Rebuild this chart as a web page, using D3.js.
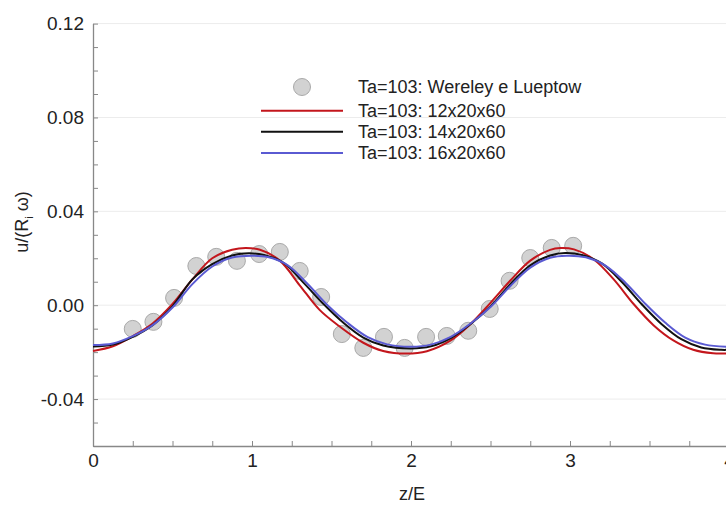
<!DOCTYPE html>
<html>
<head>
<meta charset="utf-8">
<script src="https://cdn.jsdelivr.net/npm/d3@7"></script>
<style>
  body { margin: 0; background: #fff; }
  svg { display: block; font-family: "Liberation Sans", Arial, sans-serif; }
</style>
</head>
<body>
<div id="chart"></div>
<script>
// experimental points (Wereley e Lueptow)
var expZ = [0.25, 0.38, 0.51, 0.65, 0.775, 0.905, 1.045, 1.175, 1.30, 1.435, 1.565, 1.70, 1.83, 1.96, 2.095, 2.225, 2.36, 2.495, 2.62, 2.75, 2.885, 3.02];
var expU = [-0.0101, -0.0071, 0.0031, 0.0167, 0.0206, 0.0189, 0.0218, 0.0227, 0.0146, 0.0035, -0.0123, -0.0182, -0.0135, -0.0182, -0.0135, -0.0131, -0.0109, -0.0016, 0.0104, 0.0201, 0.0244, 0.0253];

// 12x20x60
var redZ = [0, 0.125, 0.25, 0.375, 0.5, 0.625, 0.75, 0.875, 0.96, 1.05, 1.175, 1.3, 1.425, 1.55, 1.7, 1.825, 1.97, 2.1, 2.25, 2.375, 2.5, 2.625, 2.75, 2.875, 2.94, 3.025, 3.15, 3.275, 3.4, 3.525, 3.65, 3.775, 3.9, 4.0];
var redU = [-0.0195, -0.0175, -0.0132, -0.0078, 0.0005, 0.0110, 0.0200, 0.0236, 0.0244, 0.0236, 0.0190, 0.0085, -0.0020, -0.0090, -0.0160, -0.0195, -0.0206, -0.0196, -0.0150, -0.0080, 0.0010, 0.0105, 0.0190, 0.0236, 0.0244, 0.0238, 0.0195, 0.0110, 0.0005, -0.0085, -0.0150, -0.0190, -0.0205, -0.0205];

// 14x20x60
var blackZ = [0, 0.125, 0.25, 0.375, 0.5, 0.625, 0.75, 0.875, 0.98, 1.075, 1.2, 1.325, 1.45, 1.575, 1.7, 1.825, 2.0, 2.125, 2.25, 2.375, 2.5, 2.625, 2.75, 2.875, 2.97, 3.075, 3.2, 3.325, 3.45, 3.575, 3.7, 3.825, 3.95, 4.0];
var blackU = [-0.0176, -0.0168, -0.0135, -0.0085, -0.0005, 0.0110, 0.0175, 0.0212, 0.0221, 0.0214, 0.0180, 0.0095, 0.0005, -0.0075, -0.0138, -0.0172, -0.0184, -0.0175, -0.0140, -0.0080, -0.0005, 0.0090, 0.0170, 0.0212, 0.0222, 0.0214, 0.0178, 0.0100, 0.0005, -0.0080, -0.0145, -0.0180, -0.0190, -0.0190];

// 16x20x60
var blueZ = [0, 0.125, 0.25, 0.375, 0.5, 0.625, 0.75, 0.875, 1.0, 1.1, 1.225, 1.35, 1.475, 1.6, 1.725, 1.85, 2.0, 2.125, 2.25, 2.375, 2.5, 2.625, 2.75, 2.875, 2.98, 3.1, 3.225, 3.35, 3.475, 3.6, 3.725, 3.85, 4.0];
var blueU = [-0.0170, -0.0163, -0.0132, -0.0085, -0.0010, 0.0090, 0.0165, 0.0203, 0.0211, 0.0205, 0.0170, 0.0090, 0.0000, -0.0075, -0.0135, -0.0167, -0.0177, -0.0168, -0.0135, -0.0078, -0.0008, 0.0082, 0.0160, 0.0202, 0.0211, 0.0204, 0.0168, 0.0095, 0.0005, -0.0075, -0.0138, -0.0168, -0.0178];

var xTicks = [0, 1, 2, 3, 4];
var yTicks = [-0.04, 0.00, 0.04, 0.08, 0.12];
var legendLabels = ["Ta=103: Wereley e Lueptow", "Ta=103: 12x20x60", "Ta=103: 14x20x60", "Ta=103: 16x20x60"];

var W = 726, H = 506;
var svg = d3.select("#chart").append("svg").attr("width", W).attr("height", H);

var x = d3.scaleLinear().domain([0, 4]).range([93, 729]);
var y = d3.scaleLinear().domain([-0.06, 0.12]).range([446, 23.6]);

// grid
svg.append("g").selectAll("line").data(yTicks).join("line")
    .attr("x1", x(0)).attr("x2", W)
    .attr("y1", function (d) { return y(d); }).attr("y2", function (d) { return y(d); })
    .style("stroke", "#ececec").style("stroke-width", 1);

// minor ticks
var axisColor = "#888";
svg.append("g")
    .attr("transform", `translate(0, ${y(-0.06)})`)
    .call(d3.axisTop(x).tickValues(d3.range(0, 4.01, 0.25)).tickSize(5).tickFormat(""))
    .call(function (g) { g.select(".domain").remove(); g.selectAll("line").style("stroke", axisColor); });
svg.append("g")
    .attr("transform", `translate(${x(0)}, 0)`)
    .call(d3.axisRight(y).tickValues(d3.range(-0.06, 0.1201, 0.01)).tickSize(5).tickFormat(""))
    .call(function (g) { g.select(".domain").remove(); g.selectAll("line").style("stroke", axisColor); });

// axes with labels
var fmtY = function (d) { return d3.format(".2f")(d).replace("\u2212", "-"); };
var xAxis = svg.append("g")
    .attr("transform", `translate(0, ${y(-0.06)})`)
    .call(d3.axisBottom(x).tickValues(xTicks).tickSize(0).tickPadding(8).tickFormat(d3.format("d")));
xAxis.select(".domain").style("stroke", axisColor).style("stroke-width", 1.3);
xAxis.selectAll("text").style("font-size", "19px").style("fill", "#222").style("font-family", "Liberation Sans, Arial, sans-serif");

var yAxis = svg.append("g")
    .attr("transform", `translate(${x(0)}, 0)`)
    .call(d3.axisLeft(y).tickValues(yTicks).tickSize(0).tickPadding(9).tickFormat(fmtY));
yAxis.select(".domain").style("stroke", axisColor).style("stroke-width", 1.3);
yAxis.selectAll("text").style("font-size", "19px").style("fill", "#222").style("font-family", "Liberation Sans, Arial, sans-serif");

// axis titles
svg.append("text")
    .attr("x", 412).attr("y", 500)
    .attr("text-anchor", "middle")
    .style("font-size", "18px").style("fill", "#222")
    .text("z/E");

var yl = svg.append("text")
    .attr("transform", "translate(28, 222) rotate(-90)")
    .attr("text-anchor", "middle")
    .style("font-size", "18px").style("fill", "#222");
yl.append("tspan").text("u/(R");
yl.append("tspan").attr("dy", 5).style("font-size", "11px").text("i");
yl.append("tspan").attr("dy", -5).text(" ω)");

// experimental circles
var plot = svg.append("g");
plot.selectAll("circle").data(expZ).join("circle")
    .attr("cx", function (d) { return x(d); })
    .attr("cy", function (d, i) { return y(expU[i]); })
    .attr("r", 8.5)
    .style("fill", "#d2d2d2").style("stroke", "#a9a9a9").style("stroke-width", 1);

var line = d3.line()
    .x(function (d) { return x(d[0]); })
    .y(function (d) { return y(d[1]); })
    .curve(d3.curveCatmullRom);

var series = [
    { z: redZ, u: redU, color: "#c3161c" },
    { z: blackZ, u: blackU, color: "#111111" },
    { z: blueZ, u: blueU, color: "#5a5ad2" }
];
series.forEach(function (s) {
    plot.append("path")
        .datum(d3.zip(s.z, s.u))
        .attr("d", line)
        .style("fill", "none")
        .style("stroke", s.color)
        .style("stroke-width", 2);
});

// legend
var legY = [87, 110.7, 131.7, 153];
var leg = svg.append("g");
leg.append("circle").attr("cx", 302).attr("cy", legY[0]).attr("r", 8.5)
    .style("fill", "#d2d2d2").style("stroke", "#a9a9a9");
series.forEach(function (s, i) {
    leg.append("line")
        .attr("x1", 261).attr("x2", 343)
        .attr("y1", legY[i + 1]).attr("y2", legY[i + 1])
        .style("stroke", s.color).style("stroke-width", 2);
});
leg.selectAll("text").data(legendLabels).join("text")
    .attr("x", 358)
    .attr("y", function (d, i) { return legY[i]; })
    .attr("dy", "0.35em")
    .style("font-size", "18px").style("fill", "#222")
    .text(function (d) { return d; });
</script>
</body>
</html>
